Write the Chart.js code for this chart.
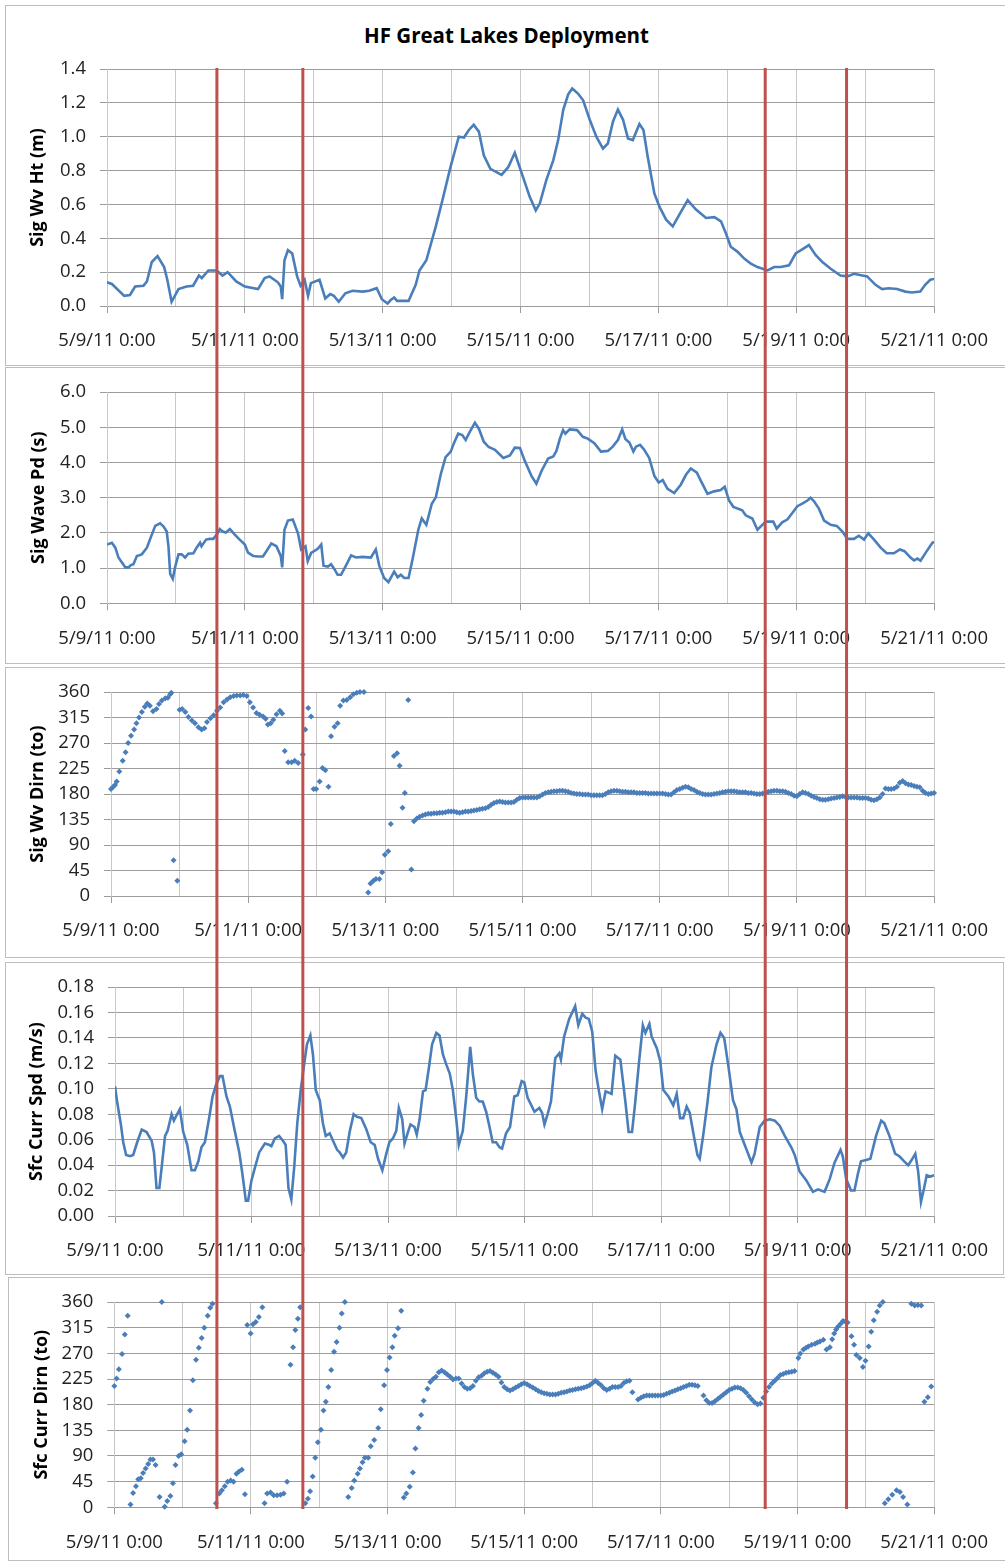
<!DOCTYPE html>
<html>
<head>
<meta charset="utf-8">
<script src="https://cdn.jsdelivr.net/npm/chart.js@4.4.1/dist/chart.umd.min.js"></script>
<style>
html,body{margin:0;padding:0;background:#fff;}
#page{position:relative;width:1005px;height:1563px;overflow:hidden;background:#fff;}
.box{position:absolute;border:1px solid #bdbdbd;box-sizing:border-box;}
canvas{position:absolute;left:0;}
#title{position:absolute;left:0;width:1013px;top:20px;text-align:center;font:bold 20.5px 'Open Sans',sans-serif;color:#000;line-height:30px;}
</style>
</head>
<body>
<div id="page">
  <div class="box" style="left:5px;top:5px;width:1010px;height:361px"></div>
  <div class="box" style="left:5px;top:367px;width:1010px;height:297px"></div>
  <div class="box" style="left:5px;top:667px;width:1010px;height:291px"></div>
  <div class="box" style="left:5px;top:962px;width:999px;height:313px"></div>
  <div class="box" style="left:8px;top:1277px;width:1010px;height:284px"></div>
  <div id="title">HF Great Lakes Deployment</div>
  <canvas id="c1" width="1005" height="365" style="top:0px"></canvas>
  <canvas id="c2" width="1005" height="296" style="top:367px"></canvas>
  <canvas id="c3" width="1005" height="291" style="top:667px"></canvas>
  <canvas id="c4" width="1005" height="313" style="top:962px"></canvas>
  <canvas id="c5" width="1005" height="286" style="top:1277px"></canvas>
  <canvas id="ov" width="1005" height="1563" style="top:0px"></canvas>
</div>
<script>
// ---------- tick labels ----------
const xTickLabels = ['5/9/11 0:00','5/11/11 0:00','5/13/11 0:00','5/15/11 0:00','5/17/11 0:00','5/19/11 0:00','5/21/11 0:00'];
const sigWvHtTicks = ['0.0','0.2','0.4','0.6','0.8','1.0','1.2','1.4'];
const sigWavePdTicks = ['0.0','1.0','2.0','3.0','4.0','5.0','6.0'];
const dirnTicks = ['0','45','90','135','180','225','270','315','360'];
const currSpdTicks = ['0.00','0.02','0.04','0.06','0.08','0.10','0.12','0.14','0.16','0.18'];

// hours since 5/9/11 0:00 of the red marker lines
const redLineHours = [38.1, 67.9, 228.2, 256.4];

// ---------- Sig Wv Ht (m) ----------
const sigWvHtHours = [
0,1.7,6,8,9.8,12.7,13.9,15.6,17.6,19.9,
21,22.5,24.9,27.7,30,32,33,35.3,38.2,40.2,
42,45,48,52.6,54.9,56.6,59.5,60.5,61,61.8,
63,64.5,66.2,67.4,68.8,70,71,74,76,77.7,
79,80.7,83,85.5,89,91.3,93.9,95.7,97.7,98.8,
100,101,105,107.5,108.8,111.2,114.5,116.8,119.6,122.5,
124.3,126,127.7,129.5,131.2,133.5,137.4,139.7,142,144.4,
147.2,149.3,150.7,153,155.4,157.1,158.9,160.6,162,164,
165.8,168.1,170.4,172.7,174.4,176.2,177.9,179.7,181.4,183.1,
185.4,186.8,188.3,190.6,192.4,194.7,197,199.3,202.2,205.1,
208.6,211.5,213.8,215.5,217.2,219.6,221.9,224.2,226.5,230,
232.3,234.6,237.5,239.8,242.1,244.4,246.8,249.1,252,255.4,
257.8,260.1,264.7,267.6,269.9,272.2,275.1,278,280.3,283.2,
284.9,286.7,288];
const sigWvHtValues = [
0.14,0.13,0.06,0.065,0.115,0.12,0.145,0.26,0.295,0.23,
0.155,0.025,0.10,0.115,0.12,0.18,0.165,0.21,0.21,0.18,
0.20,0.145,0.115,0.10,0.165,0.175,0.14,0.115,0.04,0.27,
0.33,0.31,0.175,0.12,0.155,0.06,0.135,0.155,0.045,0.07,
0.06,0.025,0.075,0.09,0.085,0.09,0.105,0.04,0.015,0.035,
0.05,0.03,0.03,0.125,0.21,0.27,0.47,0.625,0.82,1.0,
0.995,1.04,1.07,1.03,0.89,0.81,0.775,0.82,0.905,0.785,
0.645,0.565,0.605,0.745,0.86,0.98,1.16,1.25,1.285,1.255,
1.215,1.10,1.0,0.93,0.96,1.09,1.16,1.10,0.99,0.98,
1.075,1.04,0.88,0.665,0.585,0.51,0.47,0.54,0.625,0.57,
0.52,0.525,0.50,0.43,0.35,0.32,0.28,0.25,0.23,0.21,
0.23,0.23,0.24,0.31,0.335,0.36,0.30,0.26,0.22,0.18,
0.175,0.19,0.175,0.125,0.10,0.105,0.10,0.085,0.08,0.085,
0.125,0.155,0.16];

// ---------- Sig Wave Pd (s) ----------
const sigWavePdHours = [
0,1.7,2.9,4,5.2,6.4,7.5,8.3,9.2,10.4,
12.1,13.9,15.6,16.8,18.5,19.7,20.8,21.4,22,22.9,
23.7,24.9,26,27.2,28.3,30.1,31.2,32.4,32.9,34.5,
35.8,37,38.2,39.3,40.2,41.4,42.8,44.5,46.2,48,
49.1,50.9,52.6,54.3,55.5,57.2,59,60.5,61,61.8,
63,64.7,66.5,67.6,69.1,69.9,71.1,73.4,74.6,75.4,
76.9,78,79.2,80.3,81.5,83.2,85,86.7,89,91.9,
93.6,94.8,96.5,98,100,101.2,102.3,103.5,105,106.4,
108.4,109.6,111.2,113.1,114.5,116.2,117.9,119.7,120.8,122.3,
123.7,124.9,126,128.1,129.5,131.2,132.9,135.1,138,140.3,
142,143.8,145.5,147.8,149.5,151.3,153.6,155.4,156.5,157.7,
158.8,159.6,161.1,163.7,165.7,167.4,169.7,172,174.4,176.1,
177.9,179.4,180.5,181.9,183.3,184.2,185.6,186.9,188.8,190.6,
192.1,193.5,195.2,197.5,199.8,201.6,203.3,205.4,206.8,209.1,
211.4,213.7,215.1,216.6,218.1,221.2,222.4,224.7,226.5,227.6,
229.4,232,233.2,235.1,236.9,238.7,240.4,242.1,243.9,245,
246.2,247.9,249.7,252,254.1,256.1,257.8,260.1,261.8,263.6,
265.1,267.1,269.4,271.5,274,276.1,277.7,279.8,281,282.2,
283.3,285.1,287.4,288];
const sigWavePdValues = [
1.67,1.72,1.58,1.30,1.16,1.02,1.02,1.085,1.11,1.345,
1.39,1.58,1.95,2.20,2.27,2.18,2.04,1.62,0.835,0.695,
1.02,1.39,1.39,1.30,1.41,1.42,1.58,1.72,1.62,1.81,
1.83,1.83,1.95,2.11,2.04,2.01,2.11,1.95,1.81,1.67,
1.44,1.345,1.33,1.33,1.48,1.70,1.62,1.345,1.02,2.09,
2.35,2.38,1.99,1.53,1.62,1.2,1.43,1.55,1.67,1.07,
1.04,1.11,0.97,0.81,0.81,1.07,1.36,1.30,1.32,1.30,
1.53,1.07,0.72,0.60,0.90,0.74,0.81,0.72,0.72,1.25,
2.09,2.41,2.23,2.83,3.01,3.66,4.15,4.31,4.55,4.82,
4.78,4.64,4.82,5.13,4.96,4.59,4.44,4.36,4.13,4.20,
4.42,4.41,4.04,3.62,3.40,3.76,4.11,4.17,4.33,4.68,
4.92,4.82,4.94,4.92,4.73,4.68,4.55,4.31,4.33,4.45,
4.64,4.94,4.67,4.57,4.31,4.45,4.50,4.38,4.13,3.62,
3.43,3.50,3.25,3.13,3.37,3.65,3.83,3.71,3.48,3.11,
3.18,3.22,3.31,2.92,2.74,2.64,2.50,2.41,2.09,2.18,
2.32,2.32,2.12,2.30,2.38,2.57,2.76,2.83,2.92,3.0,
2.90,2.69,2.35,2.23,2.20,2.04,1.83,1.83,1.92,1.81,
1.99,1.81,1.58,1.42,1.42,1.53,1.48,1.30,1.22,1.27,
1.21,1.44,1.72,1.74];

// ---------- Sig Wv Dirn (to) ----------
const sigWvDirnHours = [
0,0.8,1.4,2,2.9,4.1,5.1,6,7,8.1,
8.9,9.8,10.8,11.8,12.7,13.6,14.7,15.9,16.8,17.8,
19,19.9,20.7,21.1,21.9,23.2,24,24.9,26,27.1,
28.3,29.4,30.6,31.7,32.7,33.6,34.8,35.9,37.1,38.2,
39.4,40.6,41.7,42.9,44,45.2,46.3,47.5,48.6,49.7,
50.9,52,53.2,54.1,54.9,55.9,56.8,57.9,59.1,59.9,
60.8,62,63.2,64.3,65.5,67.1,68,69,70,70.9,
71.8,73,74,75,76.1,77,78.2,79.3,80.2,81.3,
82.5,83.7,84.8,86,87.1,88.5,90,90.8,91.8,92.7,
93.9,94.9,95.8,97,97.9,99,100.1,101,102,102.8,
104,105.1];
const sigWvDirnValues = [
189,193,196,202,220,239,254,270,283,294,
305,315,325,334,340,336,326,330,339,345,
349,350,356,359,63,27,329,330,325,316,
310,305,298,294,296,307,314,319,327,333,
342,347,351,353,354,354,355,353,342,333,
323,320,317,313,303,305,311,321,327,322,
256,236,236,239,235,250,294,332,317,189,
189,202,226,222,193,282,299,305,336,345,
346,351,356,359,360,360,6,22,27,30,
30,42,73,79,127,247,252,230,156,182,
346,47];
// hourly readings from 5/13/11 10:00 (hour 106) to the end (hour 288)
const sigWvDirnHourlyStart = 106;
const sigWvDirnHourly = [
132,137,140,142,144,145,145,146,146,147,
147,148,149,149,149,148,147,148,149,149,
150,151,152,153,154,155,157,161,164,166,
167,166,165,165,165,166,170,173,174,174,
174,174,174,174,176,179,182,183,184,185,
185,186,186,185,184,182,181,180,180,179,
179,179,178,178,178,178,178,180,183,185,
186,186,185,184,184,183,183,183,182,182,
182,182,181,181,181,181,181,181,180,179,
179,183,187,189,191,193,192,189,187,184,
182,180,179,179,179,180,181,182,183,184,
185,185,185,184,183,183,183,182,182,181,
180,180,181,182,184,185,186,186,185,185,
184,182,180,177,176,180,183,182,180,177,
175,173,171,170,170,171,172,173,174,175,
176,175,174,174,174,174,173,173,173,172,
170,169,171,174,180,190,189,189,190,193,
200,203,199,197,196,194,193,192,186,182,
180,181,182];

// ---------- Sfc Curr Spd (m/s) ----------
const sfcCurrSpdHours = [
0,0.8,2,2.9,3.9,5.3,6.4,7.8,9.4,11.1,
12.9,13.7,14.6,15.6,16.4,17.6,18.5,19.9,20.7,21.6,
22.8,24,25.4,26.9,28.1,29.3,30.4,31.6,33.1,34.3,
35.5,36.9,37.8,39.2,40.4,42.1,43.7,44.8,46,46.8,
48,49.2,50.7,52.7,54.2,55,56.2,57.7,59.1,60,
61,62,63,64.1,65.3,66.5,67.5,68.7,69.6,70.6,
72,73.1,74.1,75.5,76.7,78.1,79,80.2,81.3,82.5,
83.9,85.1,86.6,88.4,89.9,91.3,92.5,94,95.4,96.5,
97.7,98.9,99.8,101,101.8,103,103.9,105.3,106.1,107.1,
108.3,109.2,110.4,111.5,113,114.1,115.3,116.5,117.7,118.8,
120,120.9,122.3,123.5,124.9,125.8,127,128.1,129.3,130.5,
131.6,132.8,134,135.2,136.1,137.5,138.9,140.4,141.6,143,
143.9,145.1,147.5,149.2,150.2,151,152.1,153.3,154.8,156.2,
156.8,157.9,159.7,161.8,162.9,164.3,165.5,166.6,167.8,169,
170.1,171.3,172.5,174.6,175.9,177.7,179.4,180.6,181.8,182.9,
184.3,185.6,186.5,187.9,188.7,190.5,191.7,192.8,194.6,196.3,
197.5,198.7,199.8,201,202.1,203.7,204.8,205.6,206.8,208.3,
209.7,211.5,212.9,214.2,215.6,217.3,218.5,219.7,221.4,223.8,
224.9,226.7,228.4,230.2,232,233.7,235.5,237.8,239,240.7,
243.1,245.4,247.2,249.5,251.3,253,255.1,255.9,257.1,258.8,
260,261.2,262.3,264.1,265.6,267.6,269.4,270.5,272.3,274.3,
275.8,277.5,278.9,280.1,281.4,282.4,283.4,284.5,285.4,286.6,
288];
const sfcCurrSpdValues = [
0.102,0.089,0.073,0.058,0.048,0.047,0.048,0.058,0.068,0.066,
0.059,0.050,0.022,0.022,0.038,0.063,0.067,0.080,0.075,0.079,
0.084,0.066,0.056,0.036,0.036,0.043,0.054,0.058,0.077,0.094,
0.103,0.110,0.110,0.094,0.086,0.067,0.050,0.033,0.012,0.012,
0.028,0.038,0.050,0.057,0.056,0.055,0.061,0.063,0.059,0.056,
0.022,0.013,0.038,0.073,0.099,0.119,0.135,0.142,0.127,0.099,
0.091,0.073,0.063,0.065,0.059,0.052,0.050,0.046,0.050,0.066,
0.080,0.078,0.077,0.068,0.058,0.056,0.045,0.036,0.049,0.058,
0.061,0.067,0.085,0.076,0.057,0.066,0.072,0.070,0.064,0.076,
0.098,0.099,0.117,0.135,0.144,0.142,0.127,0.119,0.112,0.099,
0.076,0.056,0.067,0.094,0.133,0.112,0.093,0.090,0.090,0.082,
0.071,0.058,0.058,0.054,0.053,0.065,0.070,0.094,0.095,0.106,
0.105,0.093,0.082,0.085,0.081,0.072,0.080,0.090,0.124,0.128,
0.123,0.141,0.155,0.165,0.150,0.159,0.156,0.155,0.145,0.114,
0.099,0.084,0.098,0.096,0.126,0.123,0.091,0.066,0.066,0.089,
0.122,0.150,0.144,0.151,0.141,0.132,0.122,0.099,0.094,0.087,
0.096,0.077,0.077,0.086,0.081,0.061,0.048,0.045,0.063,0.089,
0.117,0.135,0.144,0.140,0.119,0.091,0.084,0.066,0.056,0.042,
0.049,0.070,0.075,0.076,0.075,0.071,0.063,0.054,0.048,0.035,
0.028,0.019,0.021,0.019,0.029,0.042,0.052,0.047,0.029,0.020,
0.020,0.033,0.043,0.044,0.045,0.063,0.075,0.073,0.063,0.049,
0.047,0.043,0.040,0.044,0.049,0.035,0.011,0.022,0.032,0.031,
0.032];

// ---------- Sfc Curr Dirn (to) ----------
const sfcCurrDirnHours = [
0,0.8,1.6,2.7,3.7,4.7,5.7,6.6,7.6,8.4,
9.3,10.1,11,11.9,12.7,13.6,14.5,15.9,16.7,17.7,
18.6,19.7,20.6,21.5,22.6,23.5,24.7,25.6,26.6,27.6,
28.7,29.7,30.7,31.6,32.8,33.7,34.5,35.7,36.9,37.8,
38.8,39.8,40.9,41.9,42.9,43.8,44.8,45.9,46.7,47.9,
48.7,49.7,50.8,52,52.8,53.7,54.9,56,57.2,58.4,
59.5,60.7,61.9,62.8,63.6,64.5,65.3,67.1,68,68.8,
69.7,70.6,71.5,72.6,73.5,74.3,75.2,76.2,77.2,78.1,
79.1,79.9,81,82.2,83.4,84.3,85.5,86.3,87.2,88,
89.2,90.1,91.3,92.7,93.6,94.8,95.8,96.7,97.7,98.5,
99.7,100.8,101.7,102.6,103.8,104.9,105.8,106.9,107.8,108.7];
const sfcCurrDirnValues = [
213,226,242,269,303,336,5,25,37,49,
51,60,68,76,84,84,74,18,360,1,
11,20,42,74,90,93,116,136,170,223,
259,280,297,315,336,350,357,7,24,30,
37,45,47,45,59,63,66,23,320,305,
321,325,334,351,7,24,26,21,21,22,
24,45,250,281,311,331,351,7,15,28,
54,87,114,136,170,185,211,241,273,290,
315,340,360,18,34,47,59,68,79,87,
87,107,118,139,172,214,241,263,281,301,
314,345,17,24,36,61,103,139,162,187];
// hourly readings from hour 110 to hour 239 (null = no reading)
const sfcCurrDirnHourlyStart = 110;
const sfcCurrDirnHourly = [
208,220,225,229,237,240,237,233,229,224,
226,226,217,211,208,209,213,222,228,231,
235,238,239,236,233,229,219,211,207,205,
207,210,213,216,218,216,213,210,207,204,
202,200,199,198,198,198,199,201,202,203,
205,206,207,208,209,210,212,214,218,222,
218,214,209,206,208,211,211,211,213,218,
221,222,202,null,189,192,195,196,196,196,
196,196,196,197,199,201,203,205,207,209,
211,213,215,215,214,213,null,196,188,183,
183,186,190,194,198,202,206,208,210,210,
209,206,201,195,189,184,181,182,192,203,
211,217,222,227,232,234,236,237,238,239];
const sfcCurrDirnLateHours = [
240.3,241,242.1,243,243.8,245,246.2,247,247.9,249.1,
250.2,251.4,252.2,252.9,253.6,254.3,255.2,256,256.8,257.6,
259,259.9,260.7,261.9,263,263.9,265,265.9,266.8,268,
268.9,270,270.7,271.9,273.3,274.8,276,277.1,278.6,280,
281.2,282.3,283.5,284.6,285.8,287];
const sfcCurrDirnLateValues = [
262,270,277,280,282,285,287,289,291,294,
277,281,295,305,312,317,322,327,326,324,
300,285,267,262,246,257,282,308,328,343,
354,360,7,14,22,30,27,18,5,357,
354,355,354,185,193,212];

// ---------- helpers ----------
const FONT = "'Open Sans', sans-serif";
const BLUE = '#4a7ebb';
const TICK_COLOR = '#222222';
const HGRID = '#9c9c9c';
const VGRID = '#c8c8c8';
const XAXIS_H = 45;
const PAGE_W = 1005;

const pairs = (hs, vs) => hs.map((h, i) => ({x: h, y: vs[i]}));
const hourly = (start, vs) => vs.map((v, i) => ({x: start + i, y: v})).filter(p => p.y !== null);

function lineSet(points) {
  return {data: points, showLine: true, borderColor: BLUE, borderWidth: 2.6,
          pointRadius: 0, tension: 0, fill: false};
}
function dotSet(points) {
  return {data: points, showLine: false, pointStyle: 'rectRot', pointRadius: 3,
          pointBackgroundColor: BLUE, pointBorderColor: BLUE, pointBorderWidth: 0, clip: false};
}

function panel(id, g, datasets, yMax, yStep, yLabels, yTitle) {
  const cv = document.getElementById(id);
  const H = cv.height;
  const top = g.plotTop - g.top;
  const bottom = H - (g.plotBottom - g.top) - XAXIS_H;
  return new Chart(cv, {
    type: 'scatter',
    data: {datasets: datasets},
    options: {
      responsive: false, animation: false, devicePixelRatio: 1, events: [],
      layout: {padding: {left: 0, top: top, right: PAGE_W - g.plotRight, bottom: bottom}},
      plugins: {legend: {display: false}, tooltip: {enabled: false}, title: {display: false}},
      scales: {
        x: {
          type: 'linear', min: 0, max: 288,
          afterFit: s => { s.height = XAXIS_H; },
          ticks: {stepSize: 24, autoSkip: false, maxRotation: 0, minRotation: 0, padding: 17,
                  color: TICK_COLOR, font: {family: FONT, size: 18.5},
                  callback: v => (Math.round(v) % 48 === 0 ? xTickLabels[Math.round(v) / 48] : '')},
          grid: {color: VGRID, lineWidth: 1, tickLength: 7,
                 tickColor: c => (c.tick && Math.round(c.tick.value) % 48 === 0 ? HGRID : 'rgba(0,0,0,0)')},
          border: {color: HGRID, width: 1}
        },
        y: {
          min: 0, max: yMax,
          afterFit: s => { s.width = g.plotLeft; },
          ticks: {stepSize: yStep, padding: 14, color: TICK_COLOR, font: {family: FONT, size: 18.5},
                  callback: (v, i) => yLabels[i]},
          grid: {color: HGRID, lineWidth: 1, tickLength: 7, tickColor: HGRID},
          border: {color: VGRID, width: 1},
          title: {display: true, text: yTitle, color: '#000',
                  font: {family: FONT, size: 18, weight: 'bold'},
                  padding: {top: g.titleX - 10.8, bottom: 0}}
        }
      }
    }
  });
}

// panel geometry (page pixels)
const g1 = {top: 0,    plotTop: 69,     plotBottom: 306,    plotLeft: 107,   plotRight: 937.7, titleX: 38};
const g2 = {top: 367,  plotTop: 387.7,  plotBottom: 603.3,  plotLeft: 107,   plotRight: 937.7, titleX: 39};
const g3 = {top: 667,  plotTop: 686,    plotBottom: 896,    plotLeft: 111,   plotRight: 939.7, titleX: 38};
const g4 = {top: 962,  plotTop: 980.7,  plotBottom: 1216,   plotLeft: 115,   plotRight: 935.3, titleX: 37};
const g5 = {top: 1277, plotTop: 1298.3, plotBottom: 1507.3, plotLeft: 114.3, plotRight: 939.7, titleX: 42};

panel('c1', g1, [lineSet(pairs(sigWvHtHours, sigWvHtValues))], 1.4, 0.2, sigWvHtTicks, 'Sig Wv Ht (m)');
panel('c2', g2, [lineSet(pairs(sigWavePdHours, sigWavePdValues))], 6, 1, sigWavePdTicks, 'Sig Wave Pd (s)');
panel('c3', g3, [dotSet(pairs(sigWvDirnHours, sigWvDirnValues).concat(hourly(sigWvDirnHourlyStart, sigWvDirnHourly)))],
      360, 45, dirnTicks, 'Sig Wv Dirn (to)');
panel('c4', g4, [lineSet(pairs(sfcCurrSpdHours, sfcCurrSpdValues))], 0.18, 0.02, currSpdTicks, 'Sfc Curr Spd (m/s)');
panel('c5', g5, [dotSet(pairs(sfcCurrDirnHours, sfcCurrDirnValues)
                  .concat(hourly(sfcCurrDirnHourlyStart, sfcCurrDirnHourly))
                  .concat(pairs(sfcCurrDirnLateHours, sfcCurrDirnLateValues)))],
      360, 45, dirnTicks, 'Sfc Curr Dirn (to)');

// overlay with the red vertical marker lines spanning all panels
new Chart(document.getElementById('ov'), {
  type: 'scatter',
  data: {datasets: redLineHours.map(h => ({
    data: [{x: h, y: 0}, {x: h, y: 1}], showLine: true, borderColor: '#c0504d',
    borderWidth: 3, pointRadius: 0, clip: false}))},
  options: {
    responsive: false, animation: false, devicePixelRatio: 1, events: [],
    layout: {padding: {left: g1.plotLeft, right: PAGE_W - g1.plotRight, top: 68, bottom: 1563 - 1509}},
    plugins: {legend: {display: false}, tooltip: {enabled: false}},
    scales: {x: {type: 'linear', min: 0, max: 288, display: false},
             y: {min: 0, max: 1, display: false}}
  }
});
</script>
</body>
</html>
